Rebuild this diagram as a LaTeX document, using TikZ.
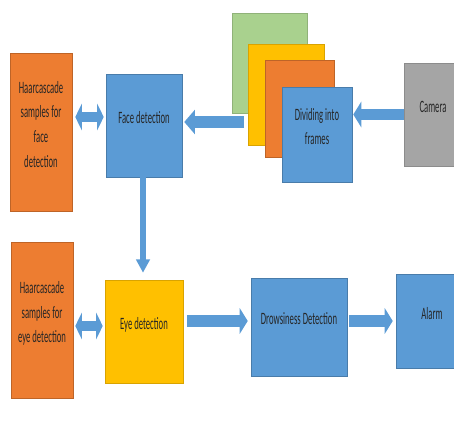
\documentclass[tikz,border=0pt]{standalone}
\usepackage{fontspec}
\usepackage{xcolor}
\usepackage{tikz}
\usetikzlibrary{arrows.meta, positioning}
\newfontfamily\boxfont[FakeStretch=0.5]{Carlito}
\newlength\pxu
\setlength\pxu{0.75pt}
\definecolor{offorange}{HTML}{ED7D31}
\definecolor{offblue}{HTML}{5B9BD5}
\definecolor{offyellow}{HTML}{FFC000}
\definecolor{offgreen}{HTML}{A9D18E}
\definecolor{offgray}{HTML}{A5A5A5}

\begin{document}
\begin{tikzpicture}[x=1\pxu, y=-1\pxu,
  block/.style={rectangle, draw, line width=0.4pt, align=center, inner sep=0pt, text depth=12pt, text=black!85, font=\boxfont\fontsize{13}{18.5}\selectfont},
  orangebox/.style={block, fill=offorange, draw=offorange!80!black},
  bluebox/.style={block, fill=offblue, draw=offblue!80!black},
  yellowbox/.style={block, fill=offyellow, draw=offyellow!85!black},
  greenbox/.style={block, fill=offgreen, draw=offgreen!85!black},
  graybox/.style={block, fill=offgray, draw=offgray!85!black},
  arrow/.style={draw=offblue, line width=8.5pt, -{Triangle[length=6pt, width=19pt]}},
  downarrow/.style={draw=offblue, line width=5pt, -{Triangle[length=10pt, width=10pt]}},
  dblarrow/.style={draw=offblue, line width=8pt, {Triangle[length=5pt, width=20pt]}-{Triangle[length=5pt, width=20pt]}}]

  \useasboundingbox (0,0) rectangle (454,442);

  % upper row
  \node (haarface) [orangebox, minimum width=62\pxu, minimum height=158\pxu] at (41,132) {Haarcascade\\samples for\\face\\detection};
  \node (face) [bluebox, minimum width=76\pxu, minimum height=103\pxu] at (144,125.5) {Face detection};
  \node (frameg) [greenbox, minimum width=75\pxu, minimum height=100\pxu] at (269.5,63) {};
  \node (framey) [yellowbox, minimum width=76\pxu, minimum height=101\pxu] at (286,94.5) {};
  \node (frameo) [orangebox, minimum width=69\pxu, minimum height=97\pxu] at (299.5,108.5) {};
  \node (divide) [bluebox, minimum width=70\pxu, minimum height=95\pxu] at (317,134.5) {Dividing into\\frames};
  \node (camera) [graybox, minimum width=58\pxu, minimum height=103\pxu] at (433,114.5) {Camera};

  % lower row
  \node (haareye) [orangebox, minimum width=62\pxu, minimum height=156\pxu] at (42,320) {Haarcascade\\samples for\\eye detection};
  \node (eye) [yellowbox, minimum width=78\pxu, minimum height=103\pxu] at (144,331.5) {Eye detection};
  \node (drowsy) [bluebox, minimum width=96\pxu, minimum height=98\pxu] at (299,327) {Drowsiness Detection};
  \node (alarm) [bluebox, minimum width=72\pxu, minimum height=94\pxu] at (432,321) {Alarm};

  \coordinate (lvla) at (0,117);
  \coordinate (lvlb) at (0,122);
  \coordinate (lvlc) at (0,326);
  \coordinate (lvld) at (0,321);
  \coordinate (split) at (244,122);

  \draw [dblarrow, shorten <=3\pxu, shorten >=2\pxu] (haarface.east |- lvla) -- (face.west |- lvla);
  \draw [arrow, -{Triangle[length=8pt, width=18pt]}, shorten >=2\pxu] (split) -- (face.east |- lvlb);
  \draw [arrow, shorten >=1\pxu] (camera.west) -- (camera.west -| divide.east);
  \draw [downarrow, shorten >=7\pxu] ([xshift=-1\pxu]face.south) -- ([xshift=-1\pxu]eye.north);
  \draw [dblarrow, shorten <=2\pxu, shorten >=2\pxu] (haareye.east |- lvlc) -- (eye.west |- lvlc);
  \draw [arrow, shorten <=4\pxu, shorten >=3\pxu] (eye.east |- lvld) -- (drowsy.west |- lvld);
  \draw [arrow, shorten <=2\pxu, shorten >=3\pxu] (drowsy.east |- lvld) -- (alarm.west |- lvld);
\end{tikzpicture}
\end{document}
